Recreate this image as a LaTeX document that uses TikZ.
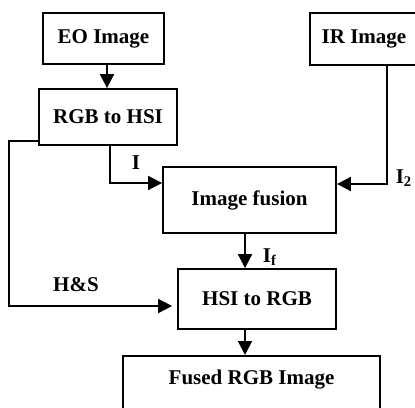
\documentclass[tikz,border=0pt]{standalone}
\usepackage{fontspec}
\setmainfont{Liberation Serif}
\usetikzlibrary{arrows.meta}
\begin{document}
\begin{tikzpicture}[x=0.5pt, y=-0.5pt,
  every node/.style={font=\bfseries\fontsize{10.5}{12}\selectfont},
  blk/.style={draw,line width=0.9pt,inner sep=0pt,align=center},
  lbl/.style={inner sep=0pt},
  arr/.style={line width=0.9pt,-{Triangle[length=7pt,width=7pt]}}]
\clip (0,0) rectangle (415,407);
% blocks
\node[blk,minimum width=60.5pt,minimum height=25.5pt] (eo) at (103.5,38.5) {EO Image};
\node[blk,minimum width=54pt,minimum height=26pt] (ir) at (364,39) {IR Image};
\node[blk,minimum width=69pt,minimum height=28pt] (rgb2hsi) at (108,117) {RGB to HSI};
\node[blk,minimum width=86.5pt,minimum height=33pt] (fusion) at (249.5,200) {Image fusion};
\node[blk,minimum width=79pt,minimum height=30pt] (hsi2rgb) at (257,299) {HSI to RGB};
\node[blk,minimum width=128.5pt,minimum height=40pt,anchor=north] (fused) at (251.5,355) {};
\node[lbl] (fusedtxt) at (251.5,380) {Fused RGB Image};
% connectors
\draw[arr] ([xshift=1.75pt]eo.south) -- ([xshift=1.75pt]eo.south |- rgb2hsi.north);
\draw[arr] ([xshift=1pt]rgb2hsi.south) |- ([yshift=8.5pt]fusion.west);
\draw[arr] ([xshift=11.5pt]ir.south) |- ([yshift=8pt]fusion.east);
\draw[arr] ([xshift=-2.25pt]fusion.south) -- ([xshift=-2.25pt]fusion.south |- hsi2rgb.north);
\draw[arr,shorten >=2.5pt] ([yshift=2.5pt]rgb2hsi.south west) -- ++(-29,0) |- ([yshift=-3.5pt]hsi2rgb.west);
\draw[arr] ([xshift=-6pt]hsi2rgb.south) -- ([xshift=-6pt]hsi2rgb.south |- fused.north);
% labels
\node[lbl] (li) at (136,163) {I};
\node[lbl] (li2) at (404,178) {I\textsubscript{2}};
\node[lbl] (lif) at (270,257) {I\textsubscript{f}};
\node[lbl] (lhs) at (76,285) {H\&S};
\end{tikzpicture}
\end{document}
